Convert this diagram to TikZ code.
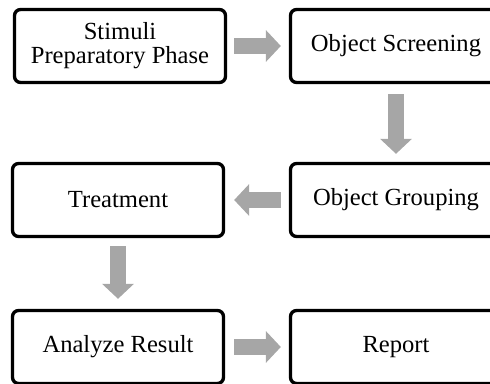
\documentclass[tikz,border=0pt]{standalone}
\usepackage{fontspec}
\setmainfont{Liberation Serif}
\usetikzlibrary{arrows.meta}
\definecolor{arrowgray}{RGB}{166,166,166}
\tikzset{
  stepbox/.style={draw=black, line width=1.9pt, rounded corners=0.12cm, fill=white,
    minimum width=4.22cm, minimum height=1.46cm, align=center,
    font=\fontsize{14}{13.6}\selectfont},
  blockarrow/.style={draw=arrowgray, line width=0.32cm,
    -{Triangle[length=0.3cm, width=0.62cm]}},
}
\begin{document}
\begin{tikzpicture}[x=0.02cm, y=-0.02cm]
  \clip (0,0) rectangle (490,384);
  \useasboundingbox (0,0) rectangle (490,384);
  \node[stepbox] (stimuli) at (120,46) {Stimuli\\Preparatory Phase};
  \node[stepbox] (screening) at (396,46) {Object Screening};
  \node[stepbox] (grouping) at (396,200) {Object Grouping};
  \node[stepbox] (treatment) at (118,200) {Treatment};
  \node[stepbox] (analyze) at (118,347) {Analyze Result};
  \node[stepbox] (report) at (396,347) {Report};
  \draw[blockarrow, shorten <=0.14cm, shorten >=0.16cm] (stimuli) -- (screening);
  \draw[blockarrow, shorten <=0.2cm, shorten >=0.16cm] (screening) -- (grouping);
  \draw[blockarrow, shorten <=0.16cm, shorten >=0.18cm] (grouping) -- (treatment);
  \draw[blockarrow, shorten <=0.16cm, shorten >=0.2cm] (treatment) -- (analyze);
  \draw[blockarrow, shorten <=0.18cm, shorten >=0.16cm] (analyze) -- (report);
\end{tikzpicture}
\end{document}
